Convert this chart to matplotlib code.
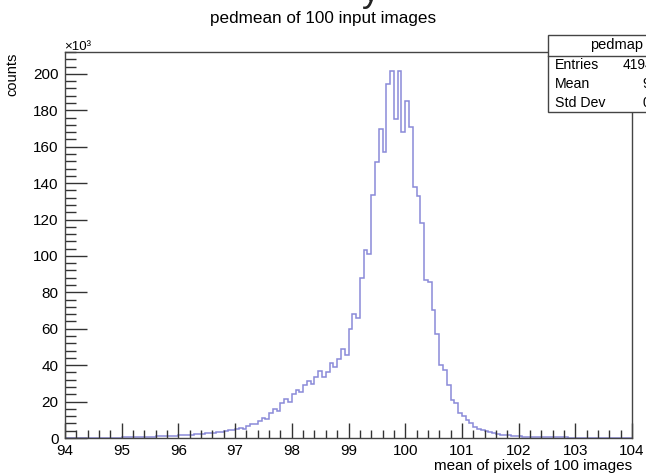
import numpy as np
import matplotlib
matplotlib.use("Agg")
import matplotlib.pyplot as plt
from matplotlib.ticker import MultipleLocator
from matplotlib.patches import Rectangle
from matplotlib.lines import Line2D

plt.rcParams['font.family'] = ['Liberation Sans', 'DejaVu Sans']

# ---------------- data ----------------
title = "pedmean of 100 input images"
x_title = "mean of pixels of 100 images"
y_title = "counts"
x_min, x_max, n_bins = 94.0, 104.0, 150
# bin contents in units of 10^3
counts = [
    0, 0, 0, 0.02, 0.03, 0.05, 0.06, 0.08, 0.1, 0.12, 0.14, 0.16, 0.19, 0.22, 0.26,
    0.3, 0.35, 0.35, 0.45, 0.5, 0.5, 0.6, 0.7, 0.7, 0.85, 0.95, 0.95, 1.1, 1.3, 1.3,
    1.5, 1.6, 1.6, 1.8, 2.0, 2.0, 2.3, 2.5, 2.5, 2.9, 3.2, 3.1, 3.7, 4.2, 4.2,
    5.0, 5.5, 5.2, 6.8, 7.8, 7.5, 9.5, 11, 10.5, 13.5, 16, 15, 19, 21.5, 20,
    24, 26.5, 25, 29, 31.5, 29.5, 33.5, 37, 33.5, 36, 41, 39, 43.4, 48.9, 45.6,
    60, 68, 66, 87.7, 103.3, 101, 133.5, 151.8, 169.6, 157.3, 194.5, 201.6, 175, 201.6, 168.3,
    185.3, 171, 138, 133, 118.3, 87, 85.5, 70.5, 57, 40, 37.5, 29, 21, 19, 14,
    12, 10, 8, 6.2, 5.2, 4.5, 3.7, 3.2, 2.5, 2.2, 1.9, 1.6, 1.4, 1.2, 1.0,
    0.9, 0.8, 0.7, 0.6, 0.6, 0.5, 0.5, 0.45, 0.4, 0.35, 0.35, 0.3, 0.3, 0.25, 0.25,
    0.2, 0.2, 0.18, 0.15, 0.12, 0.1, 0.1, 0.08, 0.06, 0.05, 0.04, 0.03, 0.02, 0.01, 0,
]
stats_name = "pedmap"
stats_labels = ["Entries", "Mean", "Std Dev"]
stats_values = ["4194304", "99.62", "0.784"]

W, H = 646, 474
fig = plt.figure(figsize=(W / 100, H / 100), dpi=100)
fig.patch.set_facecolor('white')

def fx(px):
    return px / W

def fy(py):
    return 1 - py / H

L, R, T, B = 65, 632, 52, 438
ax = fig.add_axes([fx(L), fy(B), (R - L) / W, (B - T) / H])
edges = np.linspace(x_min, x_max, n_bins + 1)
ax.stairs(counts, edges, color='#8a8ad8', linewidth=1.1)

ax.set_xlim(x_min, x_max)
ax.set_ylim(0, 212)
ax.xaxis.set_major_locator(MultipleLocator(1))
ax.xaxis.set_minor_locator(MultipleLocator(0.2))
ax.yaxis.set_major_locator(MultipleLocator(20))
ax.yaxis.set_minor_locator(MultipleLocator(4))
ax.tick_params(axis='both', which='both', direction='in', top=False, right=False,
               color='#333333', width=1.0)
ax.tick_params(axis='x', which='major', length=11, pad=4, labelsize=11)
ax.tick_params(axis='x', which='minor', length=5.5)
ax.tick_params(axis='y', which='major', length=16, pad=4.5, labelsize=11)
ax.tick_params(axis='y', which='minor', length=8)
for s in ax.spines.values():
    s.set_color('#444444')
    s.set_linewidth(1.0)

# titles
fig.text(fx(323), fy(19), title, ha='center', va='center', fontsize=12.3)
fig.text(fx(632), fy(466), x_title, ha='right', va='center', fontsize=11)
fig.text(fx(12), fy(53), y_title, ha='center', va='top', rotation=90, fontsize=10.5)
fig.text(fx(64), fy(50), "\u00d710\u00b3", ha='left', va='baseline', fontsize=9.5)

# stray descender at the very top (cropped character above the picture)
fig.text(fx(362), fy(1), "y", ha='left', va='baseline', fontsize=26, color='#222222')

# stats box
bx0, by0, bx1, by1 = 547.5, 35, 686, 112.5
box = Rectangle((fx(bx0), fy(by1)), (bx1 - bx0) / W, (by1 - by0) / H,
                transform=fig.transFigure, facecolor='white', edgecolor='#444444',
                linewidth=1.0, zorder=10)
fig.add_artist(box)
fig.add_artist(Line2D([fx(bx0), fx(bx1)], [fy(56), fy(56)], transform=fig.transFigure,
                      color='#444444', linewidth=1.0, zorder=11))
fig.text(fx((bx0 + bx1) / 2), fy(45.5), stats_name, ha='center', va='center',
         fontsize=10.5, zorder=12)
rows_y = [65, 84, 103]
for lab, val, yy in zip(stats_labels, stats_values, rows_y):
    fig.text(fx(555), fy(yy), lab, ha='left', va='center', fontsize=10.2, zorder=12)
    fig.text(fx(677), fy(yy), val, ha='right', va='center', fontsize=10, zorder=12)

fig.savefig("out.png", dpi=100)
